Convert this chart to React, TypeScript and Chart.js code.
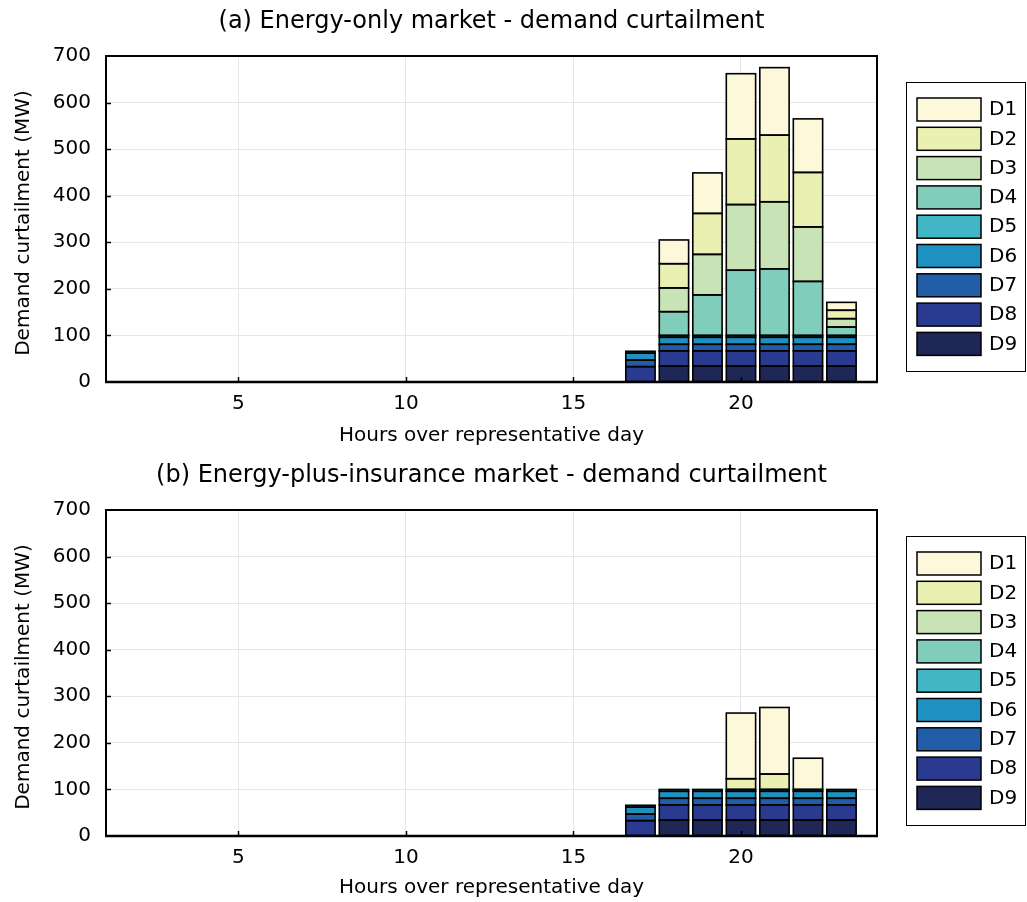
import React, { useEffect, useRef } from 'react';
import { Chart, registerables } from 'chart.js';

Chart.register(...registerables);

// ---------- data ----------
const hours = [1, 2, 3, 4, 5, 6, 7, 8, 9, 10, 11, 12, 13, 14, 15, 16, 17, 18, 19, 20, 21, 22, 23, 24];
const seriesNames = ['D1', 'D2', 'D3', 'D4', 'D5', 'D6', 'D7', 'D8', 'D9'];
const seriesColors = ['#fcf8d9', '#eaf0b2', '#c8e3b5', '#80cdbb', '#42b6c4', '#1f91c0', '#225ea8', '#2a3a91', '#1f2757'];
const xTickValues = [5, 10, 15, 20];

const titleA = '(a) Energy-only market - demand curtailment';
const titleB = '(b) Energy-plus-insurance market - demand curtailment';
const xTitle = 'Hours over representative day';
const yTitle = 'Demand curtailment (MW)';

// Panel (a): energy-only market
const aD1 = [0, 0, 0, 0, 0, 0, 0, 0, 0, 0, 0, 0, 0, 0, 0, 0, 0, 51, 87, 140, 145, 115, 17, 0];
const aD2 = [0, 0, 0, 0, 0, 0, 0, 0, 0, 0, 0, 0, 0, 0, 0, 0, 0, 52, 88, 141, 143, 117, 18, 0];
const aD3 = [0, 0, 0, 0, 0, 0, 0, 0, 0, 0, 0, 0, 0, 0, 0, 0, 0, 51, 87, 141, 144, 117, 18, 0];
const aD4 = [0, 0, 0, 0, 0, 0, 0, 0, 0, 0, 0, 0, 0, 0, 0, 0, 0, 51, 87, 140, 143, 116, 18, 0];
const aD5 = [0, 0, 0, 0, 0, 0, 0, 0, 0, 0, 0, 0, 0, 0, 0, 0, 4, 4, 4, 4, 4, 4, 4, 0];
const aD6 = [0, 0, 0, 0, 0, 0, 0, 0, 0, 0, 0, 0, 0, 0, 0, 0, 15, 15, 15, 15, 15, 15, 15, 0];
const aD7 = [0, 0, 0, 0, 0, 0, 0, 0, 0, 0, 0, 0, 0, 0, 0, 0, 14, 14, 14, 14, 14, 14, 14, 0];
const aD8 = [0, 0, 0, 0, 0, 0, 0, 0, 0, 0, 0, 0, 0, 0, 0, 0, 33, 33, 33, 33, 33, 33, 33, 0];
const aD9 = [0, 0, 0, 0, 0, 0, 0, 0, 0, 0, 0, 0, 0, 0, 0, 0, 0, 34, 34, 34, 34, 34, 34, 0];

// Panel (b): energy-plus-insurance market
const bD1 = [0, 0, 0, 0, 0, 0, 0, 0, 0, 0, 0, 0, 0, 0, 0, 0, 0, 0, 0, 141, 143, 67, 0, 0];
const bD2 = [0, 0, 0, 0, 0, 0, 0, 0, 0, 0, 0, 0, 0, 0, 0, 0, 0, 0, 0, 23, 33, 0, 0, 0];
const bD3 = [0, 0, 0, 0, 0, 0, 0, 0, 0, 0, 0, 0, 0, 0, 0, 0, 0, 0, 0, 0, 0, 0, 0, 0];
const bD4 = [0, 0, 0, 0, 0, 0, 0, 0, 0, 0, 0, 0, 0, 0, 0, 0, 0, 0, 0, 0, 0, 0, 0, 0];
const bD5 = [0, 0, 0, 0, 0, 0, 0, 0, 0, 0, 0, 0, 0, 0, 0, 0, 4, 4, 4, 4, 4, 4, 4, 0];
const bD6 = [0, 0, 0, 0, 0, 0, 0, 0, 0, 0, 0, 0, 0, 0, 0, 0, 15, 15, 15, 15, 15, 15, 15, 0];
const bD7 = [0, 0, 0, 0, 0, 0, 0, 0, 0, 0, 0, 0, 0, 0, 0, 0, 14, 14, 14, 14, 14, 14, 14, 0];
const bD8 = [0, 0, 0, 0, 0, 0, 0, 0, 0, 0, 0, 0, 0, 0, 0, 0, 33, 33, 33, 33, 33, 33, 33, 0];
const bD9 = [0, 0, 0, 0, 0, 0, 0, 0, 0, 0, 0, 0, 0, 0, 0, 0, 0, 34, 34, 34, 34, 34, 34, 0];

const seriesA = [aD1, aD2, aD3, aD4, aD5, aD6, aD7, aD8, aD9];
const seriesB = [bD1, bD2, bD3, bD4, bD5, bD6, bD7, bD8, bD9];

const FONT = '"DejaVu Sans", "Liberation Sans", sans-serif';
const W = 1027;
const H = 451;

type PanelProps = {
  title: string;
  series: number[][];
  plotTop: number;
  plotBottom: number;
  titleY: number;
  xTitleY: number;
};

function Panel({ title, series, plotTop, plotBottom, titleY, xTitleY }: PanelProps) {
  const ref = useRef<HTMLCanvasElement | null>(null);

  useEffect(() => {
    const canvas = ref.current;
    if (!canvas) return;

    // stack bottom-up: D9 first
    const datasets = seriesNames
      .map((name, i) => ({
        label: name,
        data: hours.map((h, j) => ({ x: h, y: series[i][j] })),
        backgroundColor: seriesColors[i],
        borderColor: '#000000',
        borderWidth: 0,
        borderSkipped: false as const,
        categoryPercentage: 1,
        barPercentage: 0.875,
      }))
      .reverse();

    const decor = {
      id: 'decor',
      afterDatasetsDraw(chart: any) {
        const { ctx, chartArea } = chart;
        const { left, right, top, bottom } = chartArea;
        const ys = chart.scales.y;
        const xs = chart.scales.x;
        ctx.save();
        ctx.strokeStyle = '#000';
        // bar outlines, centred on the bar edges
        ctx.lineWidth = 1.6;
        chart.data.datasets.forEach((_d: any, di: number) => {
          const meta = chart.getDatasetMeta(di);
          meta.data.forEach((el: any) => {
            const hgt = el.base - el.y;
            if (Math.abs(hgt) < 0.5) return;
            ctx.strokeRect(el.x - el.width / 2, el.y, el.width, hgt);
          });
        });
        // inward ticks
        ctx.lineWidth = 1.5;
        ctx.beginPath();
        for (let v = 100; v < 700; v += 100) {
          const p = Math.round(ys.getPixelForValue(v)) + 0.5;
          ctx.moveTo(left, p);
          ctx.lineTo(left + 5, p);
        }
        xTickValues.forEach((v) => {
          const p = Math.round(xs.getPixelForValue(v)) + 0.5;
          ctx.moveTo(p, bottom);
          ctx.lineTo(p, bottom - 5);
        });
        ctx.stroke();
        // frame
        ctx.lineWidth = 2;
        ctx.strokeRect(left, top, right - left, bottom - top);
        ctx.lineWidth = 2.5;
        ctx.beginPath();
        ctx.moveTo(left - 1, bottom);
        ctx.lineTo(right + 1, bottom);
        ctx.stroke();
        ctx.restore();
      },
      afterDraw(chart: any) {
        const { ctx, chartArea } = chart;
        const { left, right, top, bottom } = chartArea;
        ctx.save();
        ctx.fillStyle = '#000';
        // title
        ctx.font = '24px ' + FONT;
        ctx.textAlign = 'center';
        ctx.textBaseline = 'middle';
        ctx.fillText(title, (left + right) / 2, titleY);
        // x title
        ctx.font = '20px ' + FONT;
        ctx.fillText(xTitle, (left + right) / 2, xTitleY);
        // y title
        ctx.save();
        ctx.translate(24, (top + bottom) / 2 + 4);
        ctx.rotate(-Math.PI / 2);
        ctx.fillText(yTitle, 0, 0);
        ctx.restore();
        // legend
        const boxL = 906.5;
        const boxT = top + 26.5;
        const boxR = 1025.5;
        const boxB = boxT + 289;
        ctx.fillStyle = '#fff';
        ctx.fillRect(boxL, boxT, boxR - boxL, boxB - boxT);
        ctx.strokeStyle = '#000';
        ctx.lineWidth = 1;
        ctx.strokeRect(boxL, boxT, boxR - boxL, boxB - boxT);
        ctx.textAlign = 'left';
        ctx.font = '20px ' + FONT;
        seriesNames.forEach((name, i) => {
          const sy = boxT + 15.5 + i * 29.3;
          ctx.fillStyle = seriesColors[i];
          ctx.fillRect(917, sy, 64, 23);
          ctx.lineWidth = 1.5;
          ctx.strokeRect(917, sy, 64, 23);
          ctx.fillStyle = '#000';
          ctx.fillText(name, 989, sy + 12);
        });
        ctx.restore();
      },
    };

    const chart = new Chart(canvas, {
      type: 'bar',
      data: { datasets: datasets as any },
      options: {
        responsive: false,
        animation: false,
        devicePixelRatio: 1,
        layout: { padding: { left: 0, right: W - 877, top: plotTop, bottom: 0 } },
        plugins: {
          legend: { display: false },
          title: { display: false },
          tooltip: { enabled: false },
        },
        scales: {
          x: {
            type: 'linear',
            stacked: true,
            offset: false,
            min: 1.05,
            max: 24.06,
            afterBuildTicks: (s: any) => {
              s.ticks = xTickValues.map((v) => ({ value: v }));
            },
            ticks: {
              stepSize: 5,
              includeBounds: false,
              color: '#000',
              font: { family: FONT, size: 20 },
              padding: 10,
              maxRotation: 0,
            },
            grid: { color: '#e6e6e6', lineWidth: 1, drawTicks: false, offset: false },
            border: { display: false },
            afterFit: (s: any) => {
              s.height = H - plotBottom;
            },
          },
          y: {
            type: 'linear',
            stacked: true,
            min: 0,
            max: 700,
            ticks: {
              stepSize: 100,
              color: '#000',
              font: { family: FONT, size: 20 },
              padding: 15,
            },
            grid: { color: '#e6e6e6', lineWidth: 1, drawTicks: false },
            border: { display: false },
            afterFit: (s: any) => {
              s.width = 106;
            },
          },
        },
      } as any,
      plugins: [decor],
    });

    return () => chart.destroy();
  }, [title, series, plotTop, plotBottom, titleY, xTitleY]);

  return <canvas ref={ref} width={W} height={H} style={{ display: 'block', width: W, height: H }} />;
}

export default function App() {
  return (
    <div style={{ position: 'absolute', left: 0, top: 0, width: W, height: 902, background: '#fff' }}>
      <Panel title={titleA} series={seriesA} plotTop={56} plotBottom={382} titleY={22} xTitleY={436} />
      <Panel title={titleB} series={seriesB} plotTop={59} plotBottom={385} titleY={25} xTitleY={437} />
    </div>
  );
}
